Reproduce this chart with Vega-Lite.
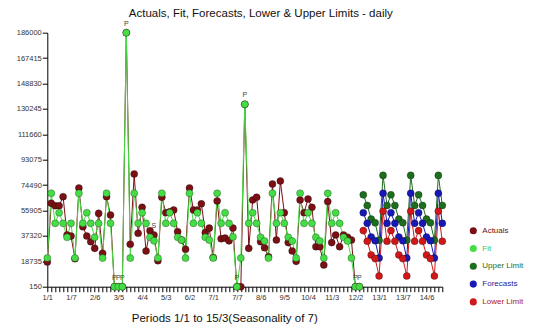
{
  "$schema": "https://vega.github.io/schema/vega-lite/v6.json",
  "width": 395,
  "height": 254,
  "autosize": {"type": "none"},
  "padding": {"left": 47.3, "top": 32.7, "right": 97.7, "bottom": 39.3},
  "background": "white",
  "config": {"font": "Liberation Sans", "view": {"stroke": null}},
  "title": {"text": "Actuals, Fit, Forecasts, Lower & Upper Limits - daily", "fontSize": 11.5, "fontWeight": "normal", "color": "#111", "anchor": "middle", "dx": 16, "dy": 11, "baseline": "middle", "offset": 5},
  "data": {"values": [
    {"t":0,"s":"Actuals","v":18200},{"t":1,"s":"Actuals","v":61200},{"t":2,"s":"Actuals","v":59400},{"t":3,"s":"Actuals","v":59400},{"t":4,"s":"Actuals","v":66000},{"t":5,"s":"Actuals","v":38000},{"t":6,"s":"Actuals","v":37200},{"t":7,"s":"Actuals","v":20600},{"t":8,"s":"Actuals","v":72400},{"t":9,"s":"Actuals","v":44000},
    {"t":10,"s":"Actuals","v":37200},{"t":11,"s":"Actuals","v":33100},{"t":12,"s":"Actuals","v":28200},{"t":13,"s":"Actuals","v":53800},{"t":14,"s":"Actuals","v":24600},{"t":15,"s":"Actuals","v":66000},{"t":16,"s":"Actuals","v":52600},{"t":17,"s":"Actuals","v":150},{"t":18,"s":"Actuals","v":150},{"t":19,"s":"Actuals","v":150},
    {"t":20,"s":"Actuals","v":186000},{"t":21,"s":"Actuals","v":31200},{"t":22,"s":"Actuals","v":82600},{"t":23,"s":"Actuals","v":39200},{"t":24,"s":"Actuals","v":58200},{"t":25,"s":"Actuals","v":26300},{"t":26,"s":"Actuals","v":41100},{"t":27,"s":"Actuals","v":38000,"f":"S"},{"t":28,"s":"Actuals","v":19200},{"t":29,"s":"Actuals","v":65600},
    {"t":30,"s":"Actuals","v":54300},{"t":31,"s":"Actuals","v":55000},{"t":32,"s":"Actuals","v":56300},{"t":33,"s":"Actuals","v":40400},{"t":34,"s":"Actuals","v":34300},{"t":35,"s":"Actuals","v":27500},{"t":36,"s":"Actuals","v":72400},{"t":37,"s":"Actuals","v":56300},{"t":38,"s":"Actuals","v":56300},{"t":39,"s":"Actuals","v":60800},
    {"t":40,"s":"Actuals","v":39700},{"t":41,"s":"Actuals","v":43000},{"t":42,"s":"Actuals","v":21500},{"t":43,"s":"Actuals","v":62900},{"t":44,"s":"Actuals","v":35200},{"t":45,"s":"Actuals","v":35700},{"t":46,"s":"Actuals","v":33700},{"t":47,"s":"Actuals","v":43100},{"t":48,"s":"Actuals","v":150},{"t":49,"s":"Actuals","v":150},
    {"t":50,"s":"Actuals","v":133600},{"t":51,"s":"Actuals","v":28200},{"t":52,"s":"Actuals","v":63600},{"t":53,"s":"Actuals","v":65600},{"t":54,"s":"Actuals","v":33100},{"t":55,"s":"Actuals","v":28700},{"t":56,"s":"Actuals","v":22000},{"t":57,"s":"Actuals","v":75300},{"t":58,"s":"Actuals","v":34300},{"t":59,"s":"Actuals","v":77500},
    {"t":60,"s":"Actuals","v":54300},{"t":61,"s":"Actuals","v":32400},{"t":62,"s":"Actuals","v":26300},{"t":63,"s":"Actuals","v":18700},{"t":64,"s":"Actuals","v":63600},{"t":65,"s":"Actuals","v":54300},{"t":66,"s":"Actuals","v":64300},{"t":67,"s":"Actuals","v":58200},{"t":68,"s":"Actuals","v":29400},{"t":69,"s":"Actuals","v":29400},
    {"t":70,"s":"Actuals","v":16000},{"t":71,"s":"Actuals","v":62400},{"t":72,"s":"Actuals","v":32400},{"t":73,"s":"Actuals","v":38000},{"t":74,"s":"Actuals","v":29400},{"t":75,"s":"Actuals","v":38000},{"t":76,"s":"Actuals","v":36300},{"t":77,"s":"Actuals","v":34300},{"t":78,"s":"Actuals","v":150},{"t":79,"s":"Actuals","v":150},
    {"t":0,"s":"Fit","v":21100},{"t":1,"s":"Fit","v":68500},{"t":2,"s":"Fit","v":46500},{"t":3,"s":"Fit","v":54300},{"t":4,"s":"Fit","v":46500},{"t":5,"s":"Fit","v":36300},{"t":6,"s":"Fit","v":46500},{"t":7,"s":"Fit","v":21100},{"t":8,"s":"Fit","v":68500},{"t":9,"s":"Fit","v":46500},
    {"t":10,"s":"Fit","v":54300},{"t":11,"s":"Fit","v":46500},{"t":12,"s":"Fit","v":36300},{"t":13,"s":"Fit","v":46500},{"t":14,"s":"Fit","v":21100},{"t":15,"s":"Fit","v":68500},{"t":16,"s":"Fit","v":46500},{"t":17,"s":"Fit","v":150,"f":"P"},{"t":18,"s":"Fit","v":150,"f":"P"},{"t":19,"s":"Fit","v":150,"f":"P"},
    {"t":20,"s":"Fit","v":186000,"f":"P"},{"t":21,"s":"Fit","v":21100},{"t":22,"s":"Fit","v":68500},{"t":23,"s":"Fit","v":46500},{"t":24,"s":"Fit","v":54300},{"t":25,"s":"Fit","v":46500},{"t":26,"s":"Fit","v":36300},{"t":27,"s":"Fit","v":33800},{"t":28,"s":"Fit","v":21100},{"t":29,"s":"Fit","v":68500},
    {"t":30,"s":"Fit","v":46500},{"t":31,"s":"Fit","v":54300},{"t":32,"s":"Fit","v":46500},{"t":33,"s":"Fit","v":36300},{"t":34,"s":"Fit","v":34300},{"t":35,"s":"Fit","v":21100},{"t":36,"s":"Fit","v":68500},{"t":37,"s":"Fit","v":46500},{"t":38,"s":"Fit","v":54300},{"t":39,"s":"Fit","v":46500},
    {"t":40,"s":"Fit","v":36300},{"t":41,"s":"Fit","v":34300},{"t":42,"s":"Fit","v":21100},{"t":43,"s":"Fit","v":68500},{"t":44,"s":"Fit","v":46500},{"t":45,"s":"Fit","v":54300},{"t":46,"s":"Fit","v":46500},{"t":47,"s":"Fit","v":36600},{"t":48,"s":"Fit","v":150,"f":"P"},{"t":49,"s":"Fit","v":21100},
    {"t":50,"s":"Fit","v":133600,"f":"P"},{"t":51,"s":"Fit","v":46500},{"t":52,"s":"Fit","v":54300},{"t":53,"s":"Fit","v":46500},{"t":54,"s":"Fit","v":36300},{"t":55,"s":"Fit","v":33600},{"t":56,"s":"Fit","v":21100},{"t":57,"s":"Fit","v":68500},{"t":58,"s":"Fit","v":46500},{"t":59,"s":"Fit","v":54300},
    {"t":60,"s":"Fit","v":46500},{"t":61,"s":"Fit","v":36300},{"t":62,"s":"Fit","v":33600},{"t":63,"s":"Fit","v":21100},{"t":64,"s":"Fit","v":68500},{"t":65,"s":"Fit","v":46500},{"t":66,"s":"Fit","v":54300},{"t":67,"s":"Fit","v":46500},{"t":68,"s":"Fit","v":36300},{"t":69,"s":"Fit","v":33600},
    {"t":70,"s":"Fit","v":21100},{"t":71,"s":"Fit","v":68500},{"t":72,"s":"Fit","v":46500},{"t":73,"s":"Fit","v":54300},{"t":74,"s":"Fit","v":46500},{"t":75,"s":"Fit","v":36300},{"t":76,"s":"Fit","v":33600},{"t":77,"s":"Fit","v":21100},{"t":78,"s":"Fit","v":150,"f":"P"},{"t":79,"s":"Fit","v":150,"f":"P"},
    {"t":80,"s":"Upper Limit","v":67400},{"t":81,"s":"Upper Limit","v":59600},{"t":82,"s":"Upper Limit","v":49600},{"t":83,"s":"Upper Limit","v":46900},{"t":84,"s":"Upper Limit","v":34200},{"t":85,"s":"Upper Limit","v":81600},{"t":86,"s":"Upper Limit","v":59600},{"t":87,"s":"Upper Limit","v":67400},{"t":88,"s":"Upper Limit","v":59600},{"t":89,"s":"Upper Limit","v":49600},{"t":90,"s":"Upper Limit","v":46900},
    {"t":91,"s":"Upper Limit","v":34200},{"t":92,"s":"Upper Limit","v":81600},{"t":93,"s":"Upper Limit","v":59600},{"t":94,"s":"Upper Limit","v":67400},{"t":95,"s":"Upper Limit","v":59600},{"t":96,"s":"Upper Limit","v":49600},{"t":97,"s":"Upper Limit","v":46900},{"t":98,"s":"Upper Limit","v":34200},{"t":99,"s":"Upper Limit","v":81600},{"t":100,"s":"Upper Limit","v":59600},
    {"t":80,"s":"Forecasts","v":54300},{"t":81,"s":"Forecasts","v":46500},{"t":82,"s":"Forecasts","v":36500},{"t":83,"s":"Forecasts","v":33800},{"t":84,"s":"Forecasts","v":21100},{"t":85,"s":"Forecasts","v":68500},{"t":86,"s":"Forecasts","v":46500},{"t":87,"s":"Forecasts","v":54300},{"t":88,"s":"Forecasts","v":46500},{"t":89,"s":"Forecasts","v":36500},{"t":90,"s":"Forecasts","v":33800},
    {"t":91,"s":"Forecasts","v":21100},{"t":92,"s":"Forecasts","v":68500},{"t":93,"s":"Forecasts","v":46500},{"t":94,"s":"Forecasts","v":54300},{"t":95,"s":"Forecasts","v":46500},{"t":96,"s":"Forecasts","v":36500},{"t":97,"s":"Forecasts","v":33800},{"t":98,"s":"Forecasts","v":21100},{"t":99,"s":"Forecasts","v":68500},{"t":100,"s":"Forecasts","v":46500},
    {"t":80,"s":"Lower Limit","v":41200},{"t":81,"s":"Lower Limit","v":33400},{"t":82,"s":"Lower Limit","v":23400},{"t":83,"s":"Lower Limit","v":20700},{"t":84,"s":"Lower Limit","v":8000},{"t":85,"s":"Lower Limit","v":55400},{"t":86,"s":"Lower Limit","v":33400},{"t":87,"s":"Lower Limit","v":41200},{"t":88,"s":"Lower Limit","v":33400},{"t":89,"s":"Lower Limit","v":23400},{"t":90,"s":"Lower Limit","v":20700},
    {"t":91,"s":"Lower Limit","v":8000},{"t":92,"s":"Lower Limit","v":55400},{"t":93,"s":"Lower Limit","v":33400},{"t":94,"s":"Lower Limit","v":41200},{"t":95,"s":"Lower Limit","v":33400},{"t":96,"s":"Lower Limit","v":23400},{"t":97,"s":"Lower Limit","v":20700},{"t":98,"s":"Lower Limit","v":8000},{"t":99,"s":"Lower Limit","v":55400},{"t":100,"s":"Lower Limit","v":33400}
  ]},
  "encoding": {
    "x": {"field": "t", "type": "quantitative",
      "scale": {"domain": [0, 100], "nice": false, "zero": false},
      "axis": {"tickCount": 100, "grid": false, "domainColor": "#000", "tickColor": "#000", "tickSize": 5, "labelFontSize": 7.5, "labelColor": "#333", "labelPadding": 2, "labelOverlap": false, "labelFlush": false, "labelBound": false,
        "labelExpr": "datum.value % 6 == 0 && datum.value <= 96 ? (floor(datum.value / 7) + 1) + '/' + (datum.value % 7 + 1) : ''",
        "title": "Periods 1/1 to 15/3(Seasonality of 7)", "titleFontSize": 11.5, "titleFontWeight": "normal", "titleColor": "#111", "titleX": 177, "titleY": 32, "titleAnchor": null, "titleAlign": "center", "titleBaseline": "middle"}},
    "y": {"field": "v", "type": "quantitative",
      "scale": {"domain": [150, 186000], "nice": false, "zero": false},
      "axis": {"values": [150, 18735, 37320, 55905, 74490, 93075, 111660, 130245, 148830, 167415, 186000], "format": "d", "grid": false, "title": null, "domainColor": "#000", "tickColor": "#000", "tickSize": 5, "labelFontSize": 7.5, "labelColor": "#333", "labelPadding": 1}},
    "color": {"field": "s", "type": "nominal",
      "scale": {"domain": ["Actuals", "Fit", "Upper Limit", "Forecasts", "Lower Limit"], "range": ["#7a0f14", "#45dd45", "#1d6e1d", "#1818b8", "#d01818"]},
      "legend": {"title": null, "orient": "none", "legendX": 422, "legendY": 194, "padding": 0, "symbolType": "circle", "symbolSize": 50, "symbolStrokeWidth": 0, "labelFontSize": 8, "rowPadding": 9.8, "labelOffset": 5,
        "labelColor": {"expr": "datum.label == 'Actuals' ? '#6b1010' : datum.label == 'Fit' ? '#3fc83f' : datum.label == 'Upper Limit' ? '#1d6e1d' : datum.label == 'Forecasts' ? '#1a1a9a' : '#b01818'"}}}
  },
  "layer": [
    {"mark": {"type": "line", "strokeWidth": 1, "clip": false}},
    {"mark": {"type": "point", "filled": true, "size": 50, "opacity": 1, "stroke": "#000", "strokeOpacity": 0.35, "strokeWidth": 0.8, "clip": false}},
    {"transform": [{"filter": "isValid(datum.f)"}],
     "mark": {"type": "text", "dy": -9, "fontSize": 7, "clip": false},
     "encoding": {"text": {"field": "f"}, "color": {"value": "#444"}}}
  ]
}
